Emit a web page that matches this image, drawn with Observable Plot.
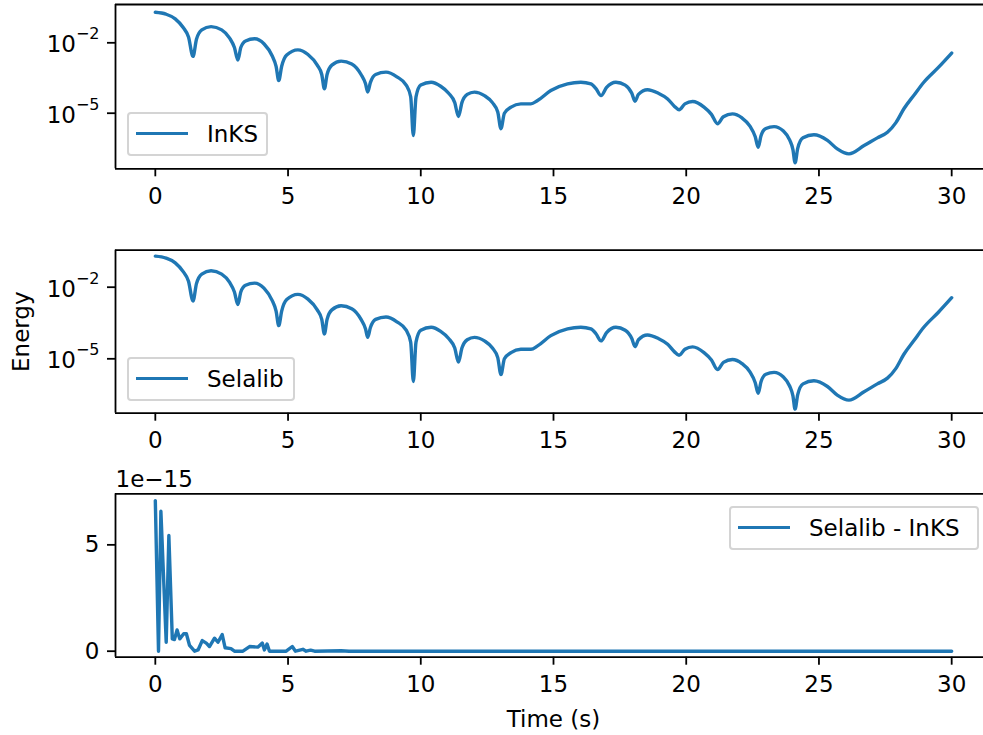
<!DOCTYPE html>
<html>
<head>
<meta charset="utf-8">
<script src="https://cdn.jsdelivr.net/npm/d3@7"></script>
<script src="https://cdn.jsdelivr.net/npm/@observablehq/plot@0.6"></script>
<style>
  body { margin: 0; background: #fff; }
  #root { position: relative; width: 983px; height: 735px; overflow: hidden; font-family: "DejaVu Sans", sans-serif; background: #fff; }
  .panel { position: absolute; left: 0; }
  .legend { position: absolute; box-sizing: border-box; height: 44px; border: 2px solid #d4d4d4; border-radius: 4px; background: rgba(255,255,255,0.8); }
  .legend .sample { position: absolute; height: 3.4px; width: 52px; left: 7px; top: 17.5px; background: #1f77b4; }
  .legend .label { position: absolute; left: 78px; top: 0; line-height: 40px; font-size: 23px; color: #000; white-space: nowrap; }
</style>
</head>
<body>
<div id="root"></div>
<script>
// ---------- data ----------
const time = [
  0.00, 0.40, 0.75, 1.05, 1.25, 1.42, 1.55, 1.75, 2.10, 2.50, 2.80, 2.98, 3.11, 3.22, 3.40, 3.74,
  4.10, 4.40, 4.55, 4.65, 4.76, 4.95, 5.37, 5.75, 6.10, 6.27, 6.37, 6.47, 6.65, 7.00, 7.40, 7.75,
  7.92, 8.00, 8.10, 8.30, 8.69, 9.10, 9.45, 9.62, 9.72, 9.82, 10.00, 10.39, 10.75, 11.05, 11.28, 11.42,
  11.55, 11.75, 12.02, 12.40, 12.70, 12.90, 13.02, 13.15, 13.40, 13.77, 14.15, 14.40, 14.90, 15.53, 16.03, 16.41,
  16.60, 16.79, 17.00, 17.35, 17.70, 17.95, 18.07, 18.20, 18.54, 18.95, 19.30, 19.55, 19.73, 19.95, 20.24, 20.67,
  20.95, 21.18, 21.40, 21.74, 22.10, 22.40, 22.60, 22.71, 22.82, 23.00, 23.31, 23.65, 23.90, 24.02, 24.10, 24.20,
  24.40, 24.81, 25.32, 25.69, 26.13, 26.70, 27.20, 27.58, 27.90, 28.20, 28.60, 28.95, 29.50, 30.00
];
const energyInKS = [
  2.00e-1, 1.66e-1, 1.05e-1, 4.47e-2, 1.78e-2, 2.63e-3, 1.41e-2, 3.55e-2, 4.90e-2, 3.55e-2, 1.58e-2, 6.31e-3, 1.86e-3, 6.31e-3, 1.20e-2, 1.48e-2,
  8.91e-3, 2.82e-3, 1.00e-3, 2.45e-4, 1.00e-3, 3.02e-3, 5.01e-3, 3.16e-3, 1.12e-3, 4.47e-4, 1.10e-4, 4.47e-4, 1.12e-3, 1.66e-3, 1.26e-3, 4.47e-4,
  1.78e-4, 7.94e-5, 2.00e-4, 4.47e-4, 5.62e-4, 3.55e-4, 1.58e-4, 5.01e-5, 1.12e-6, 5.01e-5, 1.58e-4, 2.09e-4, 1.41e-4, 7.08e-5, 2.82e-5, 7.24e-6,
  2.82e-5, 6.31e-5, 7.94e-5, 5.62e-5, 2.82e-5, 1.12e-5, 2.19e-6, 1.00e-5, 1.82e-5, 2.51e-5, 2.51e-5, 3.47e-5, 9.33e-5, 1.78e-4, 2.09e-4, 1.78e-4,
  1.12e-4, 5.62e-5, 1.26e-4, 2.09e-4, 1.58e-4, 7.08e-5, 3.24e-5, 6.31e-5, 1.00e-4, 7.08e-5, 4.07e-5, 2.00e-5, 1.41e-5, 2.51e-5, 3.16e-5, 1.82e-5,
  8.91e-6, 3.55e-6, 7.08e-6, 9.33e-6, 6.31e-6, 2.82e-6, 1.00e-6, 3.55e-7, 1.12e-6, 2.24e-6, 2.69e-6, 1.78e-6, 7.08e-7, 2.82e-7, 7.76e-8, 3.16e-7,
  8.91e-7, 1.20e-6, 6.92e-7, 3.02e-7, 1.86e-7, 4.17e-7, 8.91e-7, 1.55e-6, 3.98e-6, 1.55e-5, 6.31e-5, 2.09e-4, 8.91e-4, 3.63e-3
];
// Selalib agrees with InKS to ~1e-15 (see the bottom panel), so the curve reads identically.
const energySelalib = [...energyInKS];

const diffTime = [
  0.00, 0.12, 0.21, 0.41, 0.51, 0.64, 0.72, 0.82, 0.92, 1.07, 1.17, 1.29, 1.48, 1.61, 1.77, 1.92,
  2.04, 2.23, 2.36, 2.52, 2.63, 2.85, 2.98, 3.30, 3.55, 3.86, 4.03, 4.11, 4.21, 4.30, 4.93, 5.16,
  5.28, 5.56, 5.68, 5.85, 6.00, 7.00, 7.30, 10.0, 15.0, 20.0, 25.0, 30.0
];
const diffValue = [
  7.08e-15, 0.00, 6.58e-15, 0.42e-15, 5.44e-15, 0.58e-15, 0.55e-15, 1.00e-15, 0.58e-15, 0.82e-15, 0.82e-15, 0.27e-15, 0.00, 0.06e-15, 0.50e-15, 0.38e-15,
  0.22e-15, 0.61e-15, 0.42e-15, 0.78e-15, 0.16e-15, 0.12e-15, 0.00, 0.00, 0.22e-15, 0.19e-15, 0.38e-15, 0.06e-15, 0.34e-15, 0.00, 0.00, 0.22e-15,
  0.00, 0.09e-15, 0.00, 0.05e-15, 0.00, 0.02e-15, 0.00, 0.00, 0.00, 0.00, 0.00, 0.00
];

const xTicks = [0, 5, 10, 15, 20, 25, 30];
const logTicks = [1e-2, 1e-5];
const diffTicks = [0, 5e-15];
const legendLabels = ["InKS", "Selalib", "Selalib - InKS"];
const yTitle = "Energy";
const xTitle = "Time (s)";
const offsetText = "1e\u221215";

// ---------- drawing ----------
const BLUE = "#1f77b4";
const FS = 23;
const root = document.getElementById("root");
const svgNS = "http://www.w3.org/2000/svg";
const xScale = {domain: [-1.5, 31.5], range: [115, 991], label: null};
const fontStyle = {fontFamily: "DejaVu Sans", fontSize: FS + "px", background: "transparent", color: "#000", overflow: "visible"};

function xAxis() {
  return Plot.axisX({ticks: xTicks, tickSize: 8, tickPadding: 10.5, strokeWidth: 1.8, fontSize: FS, label: null, tickFormat: d => String(d)});
}

function superscriptLabels(svg) {
  svg.querySelectorAll('g[aria-label="y-axis tick label"] text').forEach(t => {
    const s = t.textContent;
    if (s.includes("|")) {
      const [b, e] = s.split("|");
      t.textContent = "";
      t.append(b);
      const ts = document.createElementNS(svgNS, "tspan");
      ts.setAttribute("dy", "-13");
      ts.setAttribute("font-size", "16");
      ts.textContent = e;
      t.append(ts);
    }
  });
  const g = svg.querySelector('g[aria-label="y-axis tick label"]');
  if (g) g.setAttribute("transform", (g.getAttribute("transform") || "") + " translate(0,2)");
}

function place(svg, top) {
  svg.classList.add("panel");
  svg.style.top = top + "px";
  root.appendChild(svg);
}

function logPanel(energy, yDomain, top, height, mt, mb, extra) {
  const data = time.map((t, i) => ({t, e: energy[i]}));
  const svg = Plot.plot({
    width: 983, height, marginLeft: 115, marginRight: 0, marginTop: mt, marginBottom: mb,
    style: fontStyle,
    x: xScale,
    y: {type: "log", domain: yDomain, label: null},
    marks: [
      Plot.line(data, {x: "t", y: "e", stroke: BLUE, strokeWidth: 3.4, strokeLinejoin: "round", curve: "monotone-x"}),
      Plot.ruleX([-1.5], {stroke: "#000", strokeWidth: 1.8}),
      Plot.ruleY(yDomain, {stroke: "#000", strokeWidth: 1.8}),
      xAxis(),
      Plot.axisY({ticks: logTicks, tickSize: 8, tickPadding: 8, strokeWidth: 1.8, fontSize: FS, label: null,
        tickFormat: d => "10|\u2212" + Math.round(-Math.log10(d))}),
      ...(extra || [])
    ]
  });
  superscriptLabels(svg);
  place(svg, top);
}

// top panel: InKS
logPanel(energyInKS, [4.28e-8, 0.4285], 0, 235, 4, 66.7);

// middle panel: Selalib
logPanel(energySelalib, [5.26e-8, 0.355], 235, 230, 14.7, 52.3, [
  Plot.text([yTitle], {frameAnchor: "left", rotate: -90, dx: -94, textAnchor: "middle", lineAnchor: "middle", fontSize: FS, fill: "#000"})
]);

// bottom panel: difference
{
  const data = diffTime.map((t, i) => ({t, v: diffValue[i]}));
  const yDomain = [-0.282e-15, 7.40e-15];
  const svg = Plot.plot({
    width: 983, height: 270, marginLeft: 115, marginRight: 0, marginTop: 28.3, marginBottom: 78.3,
    style: fontStyle,
    x: xScale,
    y: {domain: yDomain, label: null},
    marks: [
      Plot.line(data, {x: "t", y: "v", stroke: BLUE, strokeWidth: 3.4, strokeLinejoin: "round"}),
      Plot.ruleX([-1.5], {stroke: "#000", strokeWidth: 1.8}),
      Plot.ruleY(yDomain, {stroke: "#000", strokeWidth: 1.8}),
      xAxis(),
      Plot.axisY({ticks: diffTicks, tickSize: 8, tickPadding: 8, strokeWidth: 1.8, fontSize: FS, label: null,
        tickFormat: d => String(Math.round(d / 1e-15))}),
      Plot.text([offsetText], {frameAnchor: "top-left", textAnchor: "start", lineAnchor: "middle", dy: -14, fontSize: FS, fill: "#000"}),
      Plot.text([xTitle], {x: [15], frameAnchor: "bottom", lineAnchor: "middle", dy: 62, fontSize: FS, fill: "#000"})
    ]
  });
  place(svg, 465);
}

// legends
function legend(label, left, top, width) {
  const div = document.createElement("div");
  div.className = "legend";
  div.style.left = left + "px";
  div.style.top = top + "px";
  div.style.width = width + "px";
  const s = document.createElement("div");
  s.className = "sample";
  const l = document.createElement("div");
  l.className = "label";
  l.textContent = label;
  div.append(s, l);
  root.appendChild(div);
}
legend(legendLabels[0], 127, 112, 141);
legend(legendLabels[1], 127, 357, 168);
legend(legendLabels[2], 729, 506, 250);
</script>
</body>
</html>
